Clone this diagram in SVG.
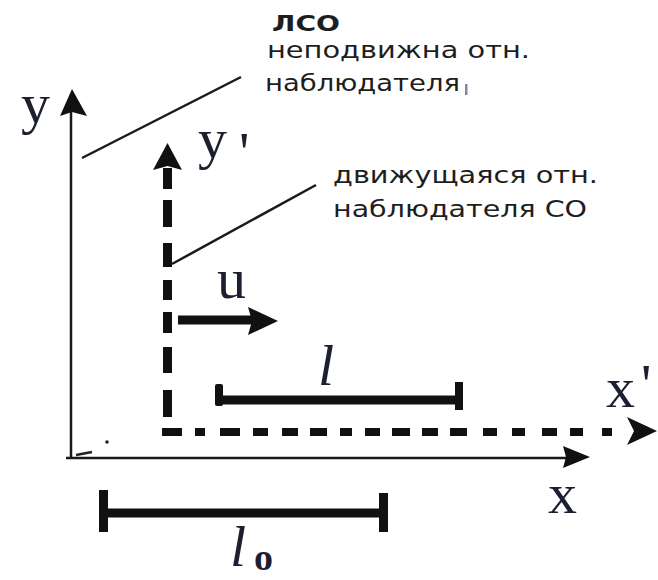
<svg xmlns="http://www.w3.org/2000/svg" width="658" height="580" viewBox="0 0 658 580">
<style>
.sans{font-family:"DejaVu Sans","Verdana","Noto Sans",sans-serif;font-size:23.5px;fill:#1e1e1e}
.bold{font-weight:bold;font-size:22px}
.serif{font-family:"Liberation Serif","Times New Roman",serif;font-size:58px;fill:#1c1f30}
.ital{font-style:italic}
.sub{font-style:normal;font-weight:bold}
.thin{stroke:#1a1a1a;stroke-width:2.5;fill:none}
.thick{stroke:#111;fill:none}
.head{fill:#111}
</style>
<rect width="658" height="580" fill="#ffffff"/>

<g id="axis-y">
  <line class="thin" x1="71" y1="458" x2="71" y2="112"/>
  <polygon class="head" points="72,89 87,116 72,112 60,116"/>
  <text class="serif" x="21" y="123">y</text>
</g>

<g id="axis-x">
  <line class="thin" x1="66" y1="458" x2="566" y2="458"/>
  <polygon class="head" points="563,446 590,457 563,468 566,457"/>
  <text class="serif" x="548" y="513">x</text>
  <path d="M76,455 L92,452" stroke="#222" stroke-width="2.5"/>
  <circle cx="107" cy="442" r="1.8" fill="#222"/>
</g>

<g id="axis-y-prime">
  <path class="thick" stroke-width="9" d="M167.5,168 V189 M167.5,200 V227 M167.5,243 V267 M167.5,280 V300 M167.5,312 V333 M167.5,347 V373 M167.5,390 V417"/>
  <polygon class="head" points="167.5,143 182,170 167.5,166 153,170"/>
  <text class="serif" x="198" y="158">y<tspan x="239" y="172">'</tspan></text>
</g>

<g id="axis-x-prime">
  <path class="thick" stroke-width="8" d="M162,432 H182 M195,432 H205 M220,432 H240 M253,432 H268 M282,432 H298 M310,432 H327 M340,432 H352 M365,432 H380 M392,432 H410 M422,432 H438 M450,432 H467 M483,432 H497 M512,432 H525 M542,432 H557 M570,432 H583 M602,432 H612"/>
  <polygon class="head" points="627,417 657,431 627,445 634,431"/>
  <text class="serif" x="606" y="407">x<tspan x="641" y="404">'</tspan></text>
</g>

<g id="arrow-u">
  <line class="thick" stroke-width="9" x1="178" y1="320" x2="252" y2="320"/>
  <polygon class="head" points="248,307 278,321 248,335 252,321"/>
  <text class="serif" x="217" y="298">u</text>
</g>

<g id="segment-l">
  <line class="thick" stroke-width="9" x1="218" y1="400" x2="463" y2="400"/>
  <rect x="215" y="384" width="8" height="22" rx="2" fill="#111"/>
  <rect x="455" y="382" width="8" height="28" fill="#111"/>
  <text class="serif ital" x="318" y="385" font-size="54">l</text>
</g>

<g id="segment-l0">
  <line class="thick" stroke-width="9" x1="100" y1="513" x2="388" y2="513"/>
  <rect x="99" y="490" width="9" height="42" fill="#111"/>
  <rect x="379" y="493" width="9" height="39" fill="#111"/>
  <text class="serif ital" x="230" y="566" font-size="48">l<tspan class="sub" font-size="38" x="254" y="570">o</tspan></text>
</g>

<g id="label-lso">
  <text class="sans bold" x="272" y="30.5" textLength="68" lengthAdjust="spacingAndGlyphs">ЛСО</text>
  <text class="sans" x="267" y="58" textLength="263" lengthAdjust="spacingAndGlyphs">неподвижна отн.</text>
  <text class="sans" x="265" y="91" textLength="195" lengthAdjust="spacingAndGlyphs">наблюдателя</text>
  <rect x="465" y="84" width="2.5" height="11" fill="#7d88a3"/>
</g>

<g id="label-moving">
  <text class="sans" x="333" y="183" textLength="265" lengthAdjust="spacingAndGlyphs">движущаяся отн.</text>
  <text class="sans" x="333" y="217" textLength="254" lengthAdjust="spacingAndGlyphs">наблюдателя СО</text>
</g>

<g id="connectors">
  <line class="thin" x1="82" y1="158" x2="241" y2="77"/>
  <line class="thin" x1="172" y1="264" x2="316" y2="185"/>
</g>
</svg>
